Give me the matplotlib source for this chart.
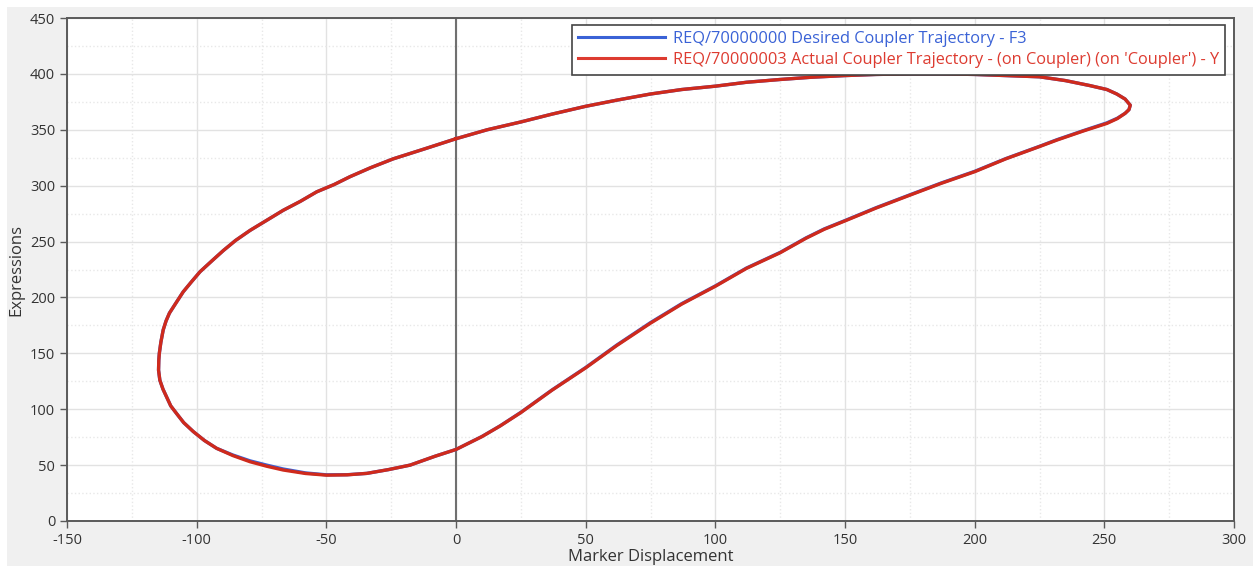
import numpy as np
import matplotlib.pyplot as plt
from matplotlib.patches import Rectangle
from matplotlib.ticker import MultipleLocator

plt.rcParams['font.family'] = ['Open Sans', 'DejaVu Sans']
plt.rcParams['axes.unicode_minus'] = False

# points, walking the loop from the top crossing of x = 0
actual_x = [0, 12, 25, 37, 50, 62, 75, 87, 100, 112, 125, 137, 150, 162, 175, 187, 200, 212,
            225, 235, 244.5, 251, 254.8, 258, 260, 259.5, 258, 255, 251, 242, 231.7, 225,
            212, 200, 187, 175, 162, 150, 142, 135, 125, 112, 100, 87, 75, 62, 50, 37,
            25, 17, 10, 0, -8, -17.7, -26, -34.4, -42, -49.9, -58, -66.6, -73, -79.4,
            -86, -92.3, -97, -101.3, -105, -107.7, -110, -111.6, -113, -114.2, -114.7,
            -114.6, -114.4, -113.8, -112.9, -111.8, -110.5, -108, -105.2, -102, -98.7,
            -94, -89.7, -85, -79.4, -73, -66.6, -60, -53.7, -47, -40.9, -33, -24.2, -12, 0]
actual_y = [342, 350, 357, 364, 371, 376.5, 382, 386, 389, 392.5, 395, 397, 398.5, 399.5, 400,
            400, 399.5, 398.5, 397.4, 394, 389.5, 386, 382, 377.5, 372, 368, 364.7, 360,
            355.7, 349, 340.8, 335, 324, 312.5, 302, 291.5, 280, 268.5, 261, 253, 240,
            226, 210, 194, 177, 157, 137, 117, 97, 85, 75.5, 64, 58, 50, 46, 42.6, 41.3,
            41, 42.5, 45.6, 49, 53, 58.5, 65, 72, 80, 88, 96, 103, 111, 118, 126, 135,
            144, 150, 160, 171, 179, 186, 195, 205, 214, 223, 233, 242, 251, 260, 269,
            278, 286, 294.5, 301, 308, 316, 324, 333, 342]

desired_x = list(actual_x)
desired_y = [342, 350, 357, 364, 371, 376.5, 382, 386, 389, 392.5, 395, 397, 398.5, 399.5, 400,
             400, 399.5, 398.5, 397.4, 394, 389.5, 386, 382, 377.5, 372, 368, 364.7, 360.3,
             356.2, 349.3, 341.1, 335.2, 324.2, 312.8, 302.3, 291.8, 280.3, 268.8, 261.3,
             253.3, 240.3, 226.3, 210.3, 194.4, 177.5, 157.4, 137.3, 117.2, 97.2, 85.1, 75.6,
             64, 58, 50, 46, 42.6, 41.4, 41.3, 43, 46.5, 50, 53.8, 59, 65, 72, 80, 88, 96,
             103, 111, 118, 126, 135, 144, 150, 160, 171, 179, 186, 195, 205, 214, 223, 233,
             242, 251, 260, 269, 278, 286, 294.5, 301, 308, 316, 324, 333, 342]

labels = ["REQ/70000000 Desired Coupler Trajectory - F3",
          "REQ/70000003 Actual Coupler Trajectory - (on Coupler) (on 'Coupler') - Y"]

fig = plt.figure(figsize=(12.55, 5.68), dpi=100, facecolor='white')
# grey panel behind the plot
fig.patches.append(Rectangle((7 / 1255, 2 / 568), 1246 / 1255, 559 / 568,
                             transform=fig.transFigure, facecolor='#f0f0f0',
                             edgecolor='none', zorder=-1))

ax = fig.add_axes([67 / 1255, 1 - 521 / 568, 1167 / 1255, 503 / 568])
ax.set_facecolor('white')

ax.plot(desired_x, desired_y, color='#3a62d6', lw=2.4, label=labels[0], zorder=3,
        solid_joinstyle='round')
ax.plot(actual_x, actual_y, color='#cf2a1c', lw=2.4, label=labels[1], zorder=4,
        solid_joinstyle='round')

ax.axvline(0, color='#707070', lw=1.5, zorder=2)

ax.set_xlim(-150, 300)
ax.set_ylim(0, 450)
ax.xaxis.set_major_locator(MultipleLocator(50))
ax.yaxis.set_major_locator(MultipleLocator(50))
ax.xaxis.set_minor_locator(MultipleLocator(25))
ax.yaxis.set_minor_locator(MultipleLocator(25))
ax.grid(which='major', color='#e2e2e2', lw=1.0, zorder=0)
ax.grid(which='minor', color='#e8e8e8', lw=1.0, ls=':', zorder=0)
ax.set_axisbelow(True)

for s in ax.spines.values():
    s.set_color('#5a5a5a')
    s.set_linewidth(1.4)
ax.tick_params(which='major', length=5, width=1, color='#5a5a5a',
               labelsize=10.5, labelcolor='#333333')
ax.tick_params(which='minor', length=0)

ax.set_xlabel('Marker Displacement', fontsize=12, color='#333333', labelpad=1)
ax.set_ylabel('Expressions', fontsize=12, color='#333333', labelpad=4)

leg = ax.legend(loc='upper right', bbox_to_anchor=(0.9925, 0.987), fontsize=11.8,
                handlelength=5.3, handletextpad=0.45, borderpad=0.4,
                labelspacing=0.3, fancybox=False, framealpha=1,
                edgecolor='#444444', borderaxespad=0)
leg.get_frame().set_linewidth(1.2)
leg_colors = ['#3a62d6', '#dd3b30']
for txt, line, c in zip(leg.get_texts(), leg.get_lines(), leg_colors):
    txt.set_color(c)
    line.set_color(c)
    line.set_linewidth(2.2)

fig.savefig('out.png', dpi=100, facecolor=fig.get_facecolor())
